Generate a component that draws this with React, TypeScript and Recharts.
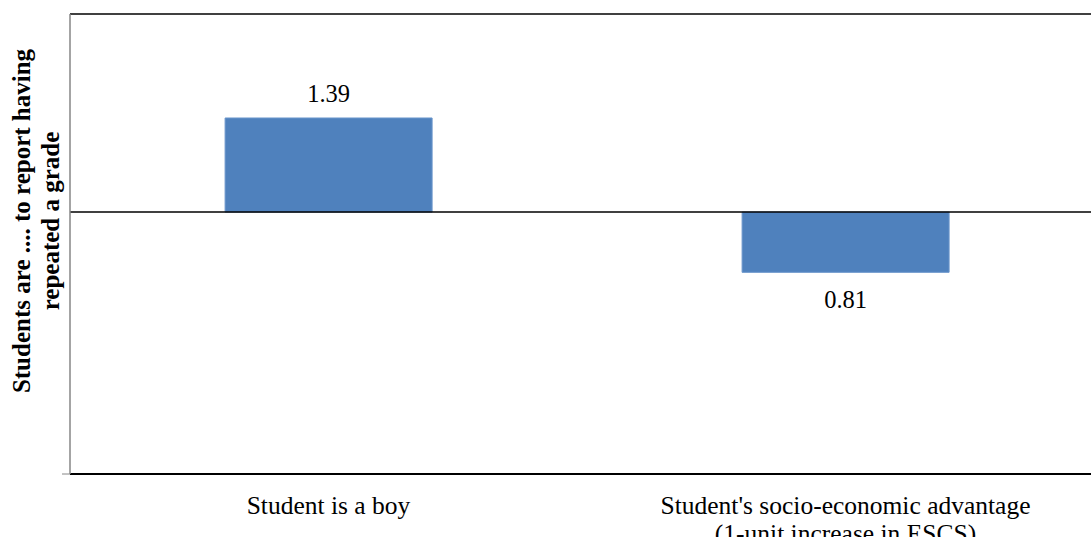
import React from 'react'
import { BarChart, Bar, XAxis, YAxis, ReferenceLine, LabelList } from 'recharts'

// odds ratios, bars drawn from the reference value of 1
const categories = ['Student is a boy', "Student's socio-economic advantage\n(1-unit increase in ESCS)"]
const oddsRatios = [1.39, 0.81]
const baseline = 1
const yDomain = [0.4, 2]
const yTicks = [0.4]
const yTitle = ['Students are .... to report having', 'repeated a grade']

const FONT = 'Liberation Serif'

const data = categories.map((name, i) => ({ name, range: [baseline, oddsRatios[i]] }))

function CategoryTick(props: any) {
  const { x, y, payload } = props
  const lines = String(payload.value).split('\n')
  return (
    <text x={x} y={y + 32} textAnchor="middle" fontSize={25.5} fill="#000" style={{ fontFamily: FONT }}>
      {lines.map((line, i) => (
        <tspan key={i} x={x} dy={i === 0 ? 0 : 28}>{line}</tspan>
      ))}
    </text>
  )
}

function ValueLabel(props: any) {
  const { x, y, width, height, index } = props
  const v = oddsRatios[index]
  const top = Math.min(y, y + height)
  const bottom = Math.max(y, y + height)
  const ty = v >= baseline ? top - 16 : bottom + 36
  return (
    <text x={x + width / 2} y={ty} textAnchor="middle" fontSize={24.5} fill="#000" style={{ fontFamily: FONT }}>
      {v.toFixed(2)}
    </text>
  )
}

function YTitle() {
  const cy = 221
  return (
    <g>
      {yTitle.map((line, i) => {
        const cx = 30 + i * 29
        return (
          <text
            key={i}
            x={cx}
            y={cy}
            transform={`rotate(-90, ${cx}, ${cy})`}
            textAnchor="middle"
            fontSize={25}
            fill="#000"
            style={{ fontFamily: FONT, fontWeight: 'bold' }}
          >
            {line}
          </text>
        )
      })}
    </g>
  )
}

export default function App() {
  return (
    <div style={{ position: 'absolute', left: 0, top: 0, width: 1091, height: 537, overflow: 'hidden', background: '#fff' }}>
      <BarChart
        width={1110}
        height={537}
        data={data}
        margin={{ top: 14, right: 6, left: 0, bottom: 0 }}
        barCategoryGap="30%"
      >
        <XAxis
          dataKey="name"
          tickLine={false}
          axisLine={{ stroke: '#000', strokeWidth: 2 }}
          height={63}
          interval={0}
          tick={<CategoryTick />}
        />
        <YAxis
          type="number"
          scale="log"
          domain={yDomain}
          allowDataOverflow
          ticks={yTicks}
          width={70}
          tickSize={8}
          tickLine={{ stroke: '#868686' }}
          axisLine={{ stroke: '#868686', strokeWidth: 1.5 }}
          tick={() => <g />}
          label={<YTitle />}
        />
        <ReferenceLine y={yDomain[1]} stroke="#000" strokeWidth={1.5} />
        <ReferenceLine y={baseline} stroke="#000" strokeWidth={1.5} />
        <Bar dataKey="range" fill="#4F81BD" stroke="#6a96cc" strokeWidth={1} isAnimationActive={false}>
          <LabelList dataKey="range" content={<ValueLabel />} />
        </Bar>
      </BarChart>
    </div>
  )
}
